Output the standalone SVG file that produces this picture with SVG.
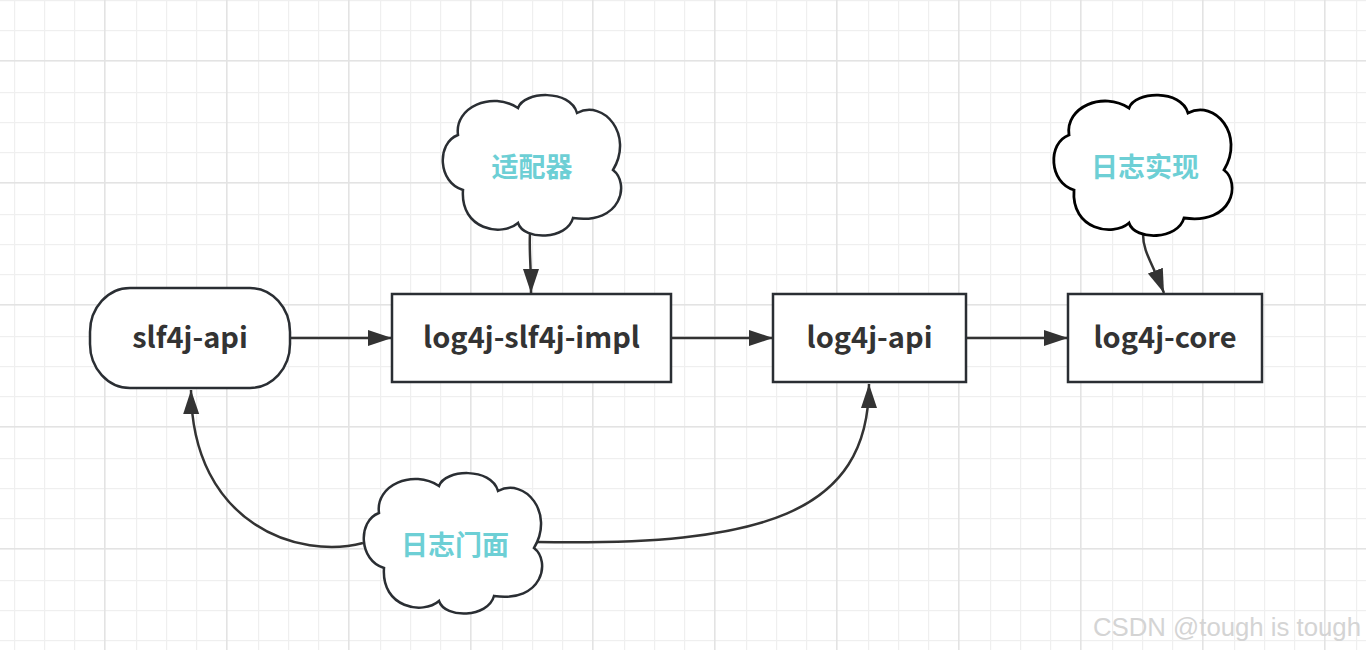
<svg xmlns="http://www.w3.org/2000/svg" width="1366" height="650" viewBox="0 0 1366 650">
<style>
.box{fill:#fff;stroke:#2a2e33;stroke-width:2.5}
.cloud{fill:#fff;stroke:#2a2e33;stroke-width:2.5}
.lbl{font-family:"Noto Sans CJK SC","Noto Sans",sans-serif;font-weight:bold;font-size:29px;fill:#333;text-anchor:middle}
.cjk{font-family:"Noto Sans CJK SC",sans-serif;font-weight:bold;font-size:27px;fill:#6dcfd5;text-anchor:middle;dominant-baseline:central}
.conn{fill:none;stroke:#333;stroke-width:2.5}
</style>
<defs>
<pattern id="grid" patternUnits="userSpaceOnUse" x="-18" y="-62" width="122" height="122">
<rect x="32" y="0" width="1.2" height="122" fill="#efefef"/>
<rect x="62" y="0" width="1.2" height="122" fill="#efefef"/>
<rect x="92" y="0" width="1.2" height="122" fill="#efefef"/>
<rect x="0" y="32" width="122" height="1.2" fill="#efefef"/>
<rect x="0" y="62" width="122" height="1.2" fill="#efefef"/>
<rect x="0" y="92" width="122" height="1.2" fill="#efefef"/>
<rect x="0" y="0" width="1.6" height="122" fill="#e3e3e3"/>
<rect x="0" y="0" width="122" height="1.6" fill="#e3e3e3"/>
</pattern>
<path id="cloudShape" d="M16,40 C12,12 50,-4 76,13 C82,-4 128,-6 135,18 C162,4 192,40 171,75 C188,88 180,130 131,123 C125,145 82,146 76,128 C60,142 18,135 21,95 C-4,88 -6,48 16,40 Z"/>
<marker id="arrow" markerUnits="userSpaceOnUse" markerWidth="26" markerHeight="18" refX="24" refY="8" orient="auto">
<path d="M0,0 L24,8 L0,16 Z" fill="#333"/>
</marker>
</defs>
<rect width="1366" height="650" fill="#fff"/>
<rect width="1366" height="650" fill="url(#grid)"/>

<g id="connectors">
<path class="conn" d="M291,338 L392,338" marker-end="url(#arrow)"/>
<path class="conn" d="M671,338 L773,338" marker-end="url(#arrow)"/>
<path class="conn" d="M966,338 L1068,338" marker-end="url(#arrow)"/>
<path class="conn" d="M530,233 C529,252 531,262 531,293" marker-end="url(#arrow)"/>
<path class="conn" d="M1143,234 C1143,252 1152,262 1164,293" marker-end="url(#arrow)"/>
<path class="conn" d="M363,543 C300,560 192,525 191,390" marker-end="url(#arrow)"/>
<path class="conn" d="M537,542 C760,546 869,515 869,384" marker-end="url(#arrow)"/>
</g>

<g id="node-slf4j-api">
<rect class="box" x="90" y="288" width="200" height="100" rx="40" ry="44" stroke-width="2.2"/>
<text class="lbl" x="190" y="348">slf4j-api</text>
</g>
<g id="node-log4j-slf4j-impl">
<rect class="box" x="392" y="294" width="279" height="88"/>
<text class="lbl" x="531.5" y="348">log4j-slf4j-impl</text>
</g>
<g id="node-log4j-api">
<rect class="box" x="773" y="294" width="193" height="88"/>
<text class="lbl" x="869.5" y="348">log4j-api</text>
</g>
<g id="node-log4j-core">
<rect class="box" x="1068" y="294" width="194" height="88"/>
<text class="lbl" x="1165" y="348">log4j-core</text>
</g>

<g id="cloud-adapter">
<use href="#cloudShape" class="cloud" transform="translate(442,95)"/>
<text class="cjk" x="532" y="165">适配器</text>
</g>
<g id="cloud-impl">
<use href="#cloudShape" class="cloud" transform="translate(1053,95)" style="stroke:#000;stroke-width:2.8"/>
<text class="cjk" x="1145" y="165">日志实现</text>
</g>
<g id="cloud-facade">
<use href="#cloudShape" class="cloud" transform="translate(363,473)"/>
<text class="cjk" x="455" y="543">日志门面</text>
</g>

<text x="1227" y="636" text-anchor="middle" font-family="Liberation Sans, sans-serif" font-size="25" fill="#d4d4d4" textLength="268" lengthAdjust="spacingAndGlyphs">CSDN @tough is tough</text>
</svg>
